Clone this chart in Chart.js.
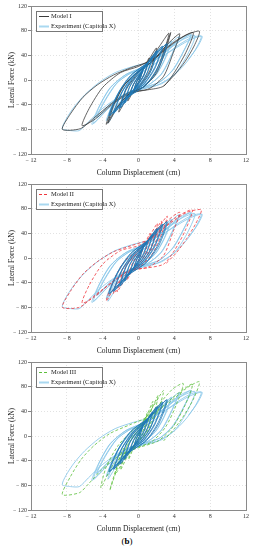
<!DOCTYPE html>
<html>
<head>
<meta charset="utf-8">
<script src="https://cdn.jsdelivr.net/npm/chart.js@4.4.0/dist/chart.umd.min.js"></script>
<style>
body { margin: 0; background: #fff; width: 254px; height: 550px; position: relative; overflow: hidden; }
canvas { position: absolute; left: 0; }
#cap { position: absolute; top: 536px; left: 0; width: 254px; text-align: center; font: 9px "Liberation Serif", serif; line-height: 11px; color: #000; }
</style>
</head>
<body>
<canvas id="c1" width="254" height="178" style="top:0"></canvas>
<canvas id="c2" width="254" height="178" style="top:178px"></canvas>
<canvas id="c3" width="254" height="178" style="top:356px"></canvas>
<div id="cap">(<b>b</b>)</div>
<script>
const xTicks = [-12, -8, -4, 0, 4, 8, 12];
const yTicks = [-120, -80, -40, 0, 40, 80, 120];
const expLabel = 'Experiment (Capitola X)';
const modelLabels = ['Model I', 'Model II', 'Model III'];

// experiment, small cycles (dense dark band in the middle)
const expCore = [
    [0,0],[0.3,10],[0.5,16],[0.25,5],[0,-4],[-0.3,-10],[-0.5,-15],[-0.25,-5],[0,4],[0.3,11],[0.5,17],[0.2,3],[-0.1,-6],[-0.5,-16],[-0.2,-3],[0.2,8],
    [0.6,18],[1,28],[0.6,9],[0,-6],[-0.6,-18],[-1,-27],[-0.6,-9],[0,6],[0.6,19],[1.1,29],[0.6,7],[0,-7],[-0.7,-19],[-1.1,-28],[-0.6,-8],[0,7],
    [0.7,20],[1.5,38],[1,13],[0.3,-4],[-0.6,-17],[-1.5,-37],[-1,-12],[-0.3,4],[0.6,19],[1.6,39],[1,12],[0.3,-5],[-0.7,-18],[-1.6,-38],[-1,-11],[-0.3,5],
    [0.8,22],[2,47],[1.4,16],[0.5,-5],[-0.8,-20],[-2,-45],[-1.4,-15],[-0.5,5],[0.8,23],[2.1,48],[1.4,15],[0.4,-6],[-0.9,-21],[-2.1,-46],[-1.4,-14],[-0.5,6],
    [1,26],[2.6,54],[1.8,20],[0.6,-6],[-1,-24],[-2.7,-53],[-1.8,-19],[-0.6,6],[1,27],[2.7,55],[1.8,18],[0.6,-7],[-1.1,-25],[-2.8,-54],[-1.8,-18],[-0.6,7],
    [1.2,30],[3.1,58],[2.2,22],[0.8,-8],[-1.2,-28],[-3.2,-57],[-2.2,-21],[-0.8,8],[1.3,31],[3.2,59],[2.3,21],[0.9,-7],[-1.3,-29],[-3.3,-58],[-2.3,-22],[-0.9,7],[1.3,31]
];

// experiment, large cycles
const expOuter = [
    [1.3,31],[2.4,45],[3.6,62],[2.8,30],[1.8,6],[0.5,-9],[-1,-20],[-2.2,-38],[-3.5,-64],[-2.7,-34],[-1.6,-8],[-0.4,10],[1,24],[2.6,46],
    [3.7,63],[2.9,32],[1.9,7],[0.6,-8],[-0.9,-19],[-2.3,-40],[-3.6,-66],[-2.8,-36],[-1.7,-9],[-0.5,9],[1.1,25],[2.7,47],
    [4.5,70],[3.6,38],[2.5,9],[1,-9],[-1,-19],[-3,-37],[-4.7,-61],[-3.8,-34],[-2.5,-6],[-1,10],[1,22],[2.8,44],[4.4,64],
    [4.6,71],[3.7,40],[2.6,10],[1.1,-8],[-0.9,-18],[-2.9,-36],[-4.6,-60],[-3.7,-33],[-2.4,-5],[-0.9,11],[1.1,23],[2.9,45],[4.5,65],
    [5.8,73],[5,46],[3.8,16],[2.3,-4],[0.5,-13],[-1.5,-24],[-3.5,-48],[-5.2,-72],[-4.5,-46],[-3.2,-13],[-1.5,8],[0.5,21],[2.5,40],[4.5,62],
    [5.9,74],[5.1,48],[3.9,17],[2.4,-3],[0.6,-12],[-1.4,-23],[-3.4,-47],[-5,-70],[-4.4,-44],[-3.1,-12],[-1.4,9],[0.6,22],[2.6,41],[4.6,63],
    [6.3,72],[5.5,42],[4.2,12],[2.6,-6],[0.6,-14],[-1.5,-28],[-3.4,-70],[-2.8,-45],[-1.6,-14],[0,8],[2,28],[4,52],[5.8,68],
    [7,71],[6.3,48],[5.2,26],[3.8,6],[2,-9],[0,-16],[-2,-26],[-4,-46],[-5.6,-68],[-6.6,-82],[-7.6,-82],[-8.5,-79],[-8.1,-64],[-7.2,-44],[-6,-24],[-4.4,-4],[-2.6,12],[-0.6,22],[1.4,30],[3.5,46],[5.6,64],[7.1,71],[6.6,54],[5.6,34]
];

const model1 = [
    [0,0],[0.5,18],[0.2,3],[-0.3,-11],[-0.6,-20],[-0.2,-3],[0.3,11],[1.2,36],[0.6,8],[-0.4,-14],[-1.2,-34],[-0.6,-8],[0.4,14],
    [2,52],[1.3,16],[0,-12],[-1.2,-28],[-2.2,-52],[-1.4,-16],[0,12],[1.2,30],[2.4,56],
    [3.4,76],[2.8,45],[1.8,10],[0.5,-12],[-1,-22],[-2.4,-44],[-3.6,-72],[-2.8,-40],[-1.6,-8],[0,14],[1.5,30],[3,54],
    [3.6,77],[3,47],[2,11],[0.6,-11],[-0.9,-21],[-2.3,-43],[-3.4,-70],[-2.7,-39],[-1.5,-7],[0.1,15],[1.6,31],[3.1,56],
    [4.6,75],[3.9,45],[2.8,6],[1.2,-14],[-1,-22],[-3,-40],[-4.8,-63],[-6.3,-74],[-5.5,-46],[-4,-12],[-2,12],[0,22],[2,38],[4,62],
    [6.1,77],[5.3,45],[4,12],[2.8,-10],[1,-16],[-1,-20],[-3,-38],[-5,-62],[-6.5,-79],[-8.5,-80],[-7.6,-55],[-6.2,-28],[-4.6,-8],[-2.8,8],[-0.8,20],[1.5,32],[3.5,55],[5.2,72],
    [6.8,79],[6.2,55],[5.2,30],[4,8],[2.8,-10]
];

const model2 = [
    [0,0],[0.6,22],[0.2,2],[-0.4,-14],[-0.7,-22],[-0.2,-2],[0.4,14],[1.3,40],[0.7,8],[-0.5,-16],[-1.3,-36],[-0.6,-6],[0.5,16],
    [2.1,56],[1.4,18],[0,-10],[-1.3,-30],[-2.4,-55],[-1.5,-16],[0,12],[1.4,34],[2.6,60],[1.8,22],[0.3,-8],[-1.4,-30],[-2.8,-58],[-1.8,-18],[0,10],[1.6,36],
    [3.2,68],[2.6,40],[1.6,8],[0.3,-12],[-1.2,-24],[-2.6,-46],[-3.6,-70],[-2.9,-40],[-1.7,-8],[0,14],[1.6,34],[3.2,60],
    [4.6,74],[3.9,44],[2.8,4],[1.2,-14],[-1.2,-22],[-3.2,-42],[-5,-64],[-6.3,-73],[-5.5,-44],[-4,-10],[-2,12],[0,20],[2,38],[4,64],
    [6,78],[5.2,44],[4,12],[2.8,-10],[1,-16],[-1,-20],[-3,-40],[-5,-62],[-6.6,-80],[-8.5,-80],[-7.6,-54],[-6.2,-26],[-4.6,-6],[-2.8,10],[-0.8,20],[1.5,32],[3.5,56],[5.4,74],
    [7,78],[6.4,56],[5.4,32],[4.2,8],[3,-10]
];

const model3 = [
    [0,0],[0.5,22],[0.2,4],[-0.3,-12],[-0.6,-22],[-0.2,-4],[0.3,12],[1,38],[0.6,12],[-0.4,-14],[-1.1,-38],[-0.6,-10],[0.4,14],
    [1.6,56],[1,20],[0,-10],[-1.2,-32],[-2,-55],[-1.3,-18],[0,10],[1.2,36],[2.2,66],[1.6,30],[0.4,-6],[-1.2,-30],[-2.6,-62],[-1.8,-24],[-0.4,6],[1.2,38],
    [2.8,74],[2.2,42],[1,8],[-0.6,-16],[-2,-40],[-3.2,-88],[-2.4,-50],[-1.2,-14],[0.4,16],[2,46],[3.8,76],
    [5,85],[4.2,50],[3,14],[1.4,-10],[-0.8,-22],[-2.8,-46],[-4.2,-84],[-3.6,-50],[-2.2,-14],[-0.4,12],[1.6,34],[3.8,62],
    [6,84],[5.2,50],[3.8,14],[2.2,-8],[0.2,-18],[-2.2,-32],[-4.2,-56],[-5.6,-78],[-6.6,-92],[-8.5,-95],[-7.6,-66],[-6.4,-38],[-5,-16],[-3.2,4],[-1,18],[1.2,32],[3.4,54],[5.4,78],
    [6.8,88],[6.2,62],[5.2,36],[4,12],[2.8,-8]
];

const toXY = arr => arr.map(([x, y]) => ({ x, y }));
const fmt = v => v < 0 ? '\u2212 ' + Math.abs(v) : String(v);
const serif = '"Liberation Serif", "Times New Roman", serif';

// frame round the plot + boxed legend inside it
const boxLegend = {
    id: 'boxLegend',
    afterDatasetsDraw(chart) {
        const ctx = chart.ctx;
        const a = chart.chartArea;
        ctx.save();
        ctx.strokeStyle = '#8a8a8a';
        ctx.lineWidth = 1;
        ctx.strokeRect(Math.round(a.left) + 0.5, Math.round(a.top) + 0.5, Math.round(a.right - a.left), Math.round(a.bottom - a.top));

        const x = Math.round(a.left) + 5, y = Math.round(a.top) + 5, w = 66, h = 20;
        ctx.fillStyle = '#fff';
        ctx.fillRect(x, y, w, h);
        ctx.strokeStyle = '#777';
        ctx.strokeRect(x + 0.5, y + 0.5, w, h);
        const shown = chart.data.datasets.filter(ds => ds.inLegend);
        shown.forEach((ds, i) => {
            const ly = y + 5.5 + i * 10;
            ctx.beginPath();
            ctx.setLineDash(ds.borderDash || []);
            ctx.strokeStyle = ds.legendColor || ds.borderColor;
            ctx.lineWidth = ds.legendWidth || 1;
            ctx.moveTo(x + 3, ly);
            ctx.lineTo(x + 13, ly);
            ctx.stroke();
            ctx.setLineDash([]);
            ctx.fillStyle = '#222';
            ctx.font = '6.5px ' + serif;
            ctx.textBaseline = 'middle';
            ctx.fillText(ds.label, x + 15, ly);
        });
        ctx.restore();
    }
};

function makeChart(id, label, data, color, dash) {
    const ctx = document.getElementById(id).getContext('2d');
    return new Chart(ctx, {
        type: 'scatter',
        data: {
            datasets: [
                {
                    label: expLabel + ' core', data: toXY(expCore), borderColor: '#1f78b6',
                    borderWidth: 0.8, order: 0
                },
                {
                    label: label, data: toXY(data), borderColor: color, borderDash: dash,
                    borderWidth: 0.8, order: 1, inLegend: true, legendWidth: 1
                },
                {
                    label: expLabel, data: toXY(expOuter), borderColor: '#8ecaea',
                    borderWidth: 0.9, order: 2, inLegend: true, legendWidth: 2, legendColor: '#a9d8f0'
                }
            ]
        },
        options: {
            responsive: false,
            animation: false,
            showLine: true,
            elements: {
                point: { radius: 0, hoverRadius: 0 },
                line: { tension: 0.25, fill: false }
            },
            layout: { padding: { left: 4, right: 8, top: 6, bottom: 0 } },
            plugins: { legend: { display: false }, tooltip: { enabled: false } },
            scales: {
                x: {
                    type: 'linear', min: -12, max: 12,
                    afterBuildTicks: s => { s.ticks = xTicks.map(v => ({ value: v })); },
                    afterFit: s => { s.height = 24; },
                    ticks: { callback: fmt, font: { family: serif, size: 6 }, color: '#333', padding: 3, maxRotation: 0 },
                    grid: { color: '#d6d6d6', lineWidth: 0.7, drawTicks: false },
                    border: { display: true, color: '#8a8a8a', width: 1, dash: [1, 2] },
                    title: { display: true, text: 'Column Displacement (cm)', font: { family: serif, size: 7.5 }, color: '#222', padding: { top: 1, bottom: 0 } }
                },
                y: {
                    type: 'linear', min: -120, max: 120,
                    afterBuildTicks: s => { s.ticks = yTicks.map(v => ({ value: v })); },
                    afterFit: s => { s.width = 27; },
                    ticks: { callback: fmt, font: { family: serif, size: 6 }, color: '#333', padding: 1 },
                    grid: { color: '#d6d6d6', lineWidth: 0.7, tickLength: 3, tickColor: '#666', tickWidth: 0.8 },
                    border: { display: true, color: '#8a8a8a', width: 1, dash: [1, 2] },
                    title: { display: true, text: 'Lateral Force (kN)', font: { family: serif, size: 7.5 }, color: '#222', padding: 4 }
                }
            }
        },
        plugins: [boxLegend]
    });
}

makeChart('c1', modelLabels[0], model1, '#3c3c3c', []);
makeChart('c2', modelLabels[1], model2, '#f0363d', [3, 2]);
makeChart('c3', modelLabels[2], model3, '#5dbf3c', [3, 2]);
</script>
</body>
</html>
